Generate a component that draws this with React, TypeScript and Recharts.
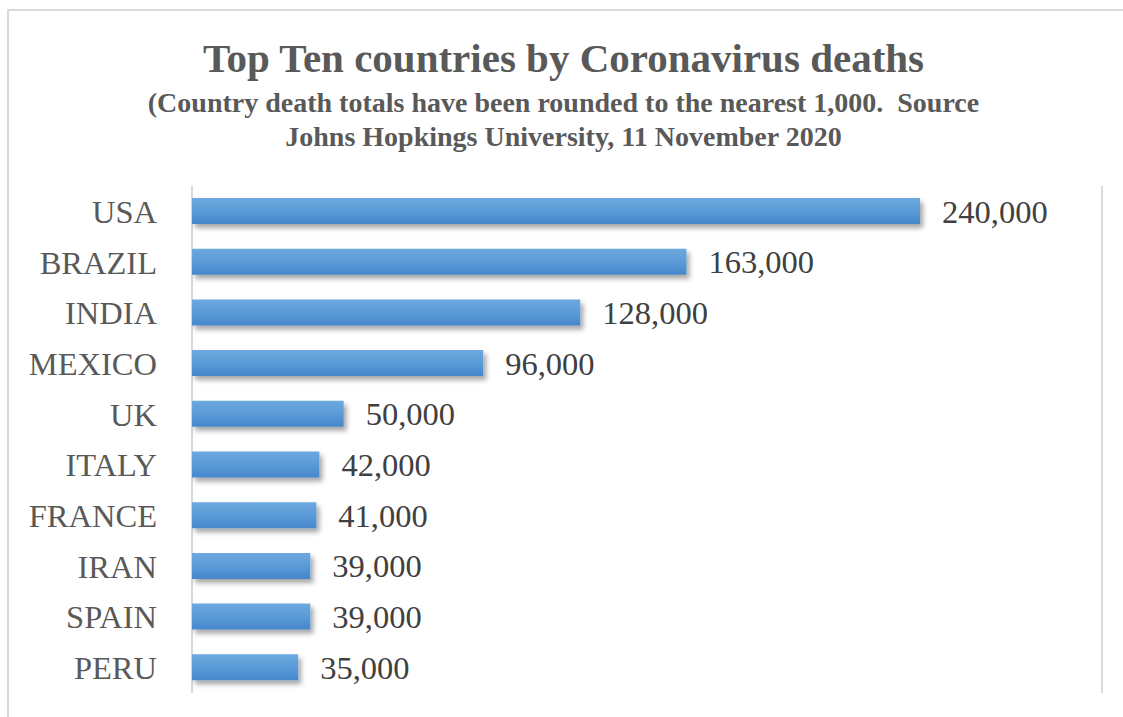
import { Bar, BarChart, CartesianGrid, LabelList, XAxis, YAxis } from "recharts";

const COUNTRIES = ["USA", "BRAZIL", "INDIA", "MEXICO", "UK", "ITALY", "FRANCE", "IRAN", "SPAIN", "PERU"];
const DEATHS = [240000, 163000, 128000, 96000, 50000, 42000, 41000, 39000, 39000, 35000];
const X_TICKS = [0, 50000, 100000, 150000, 200000, 250000, 300000];

const FONT = "'Liberation Serif', 'Times New Roman', serif";
const TITLE_COLOR = "#595959";
const LABEL_COLOR = "#404040";
const GRID = "#d9d9d9";

const data = COUNTRIES.map((country, i) => ({ country, deaths: DEATHS[i] }));

const fmt = (v: unknown) => Number(v).toLocaleString("en-US");

export default function App() {
  return (
    <div
      style={{
        position: "absolute",
        left: 0,
        top: 0,
        width: 1123,
        height: 717,
        background: "#fff",
        overflow: "hidden",
        fontFamily: FONT,
      }}
    >
      {/* chart frame */}
      <div
        style={{
          position: "absolute",
          left: 7,
          top: 9,
          width: 1130,
          height: 720,
          borderTop: `2px solid ${GRID}`,
          borderLeft: `2px solid ${GRID}`,
        }}
      />
      <div
        style={{
          position: "absolute",
          top: 35,
          left: 0,
          width: 1127,
          textAlign: "center",
          color: TITLE_COLOR,
          fontWeight: "bold",
        }}
      >
        <div style={{ fontSize: 41, lineHeight: "46px" }}>Top Ten countries by Coronavirus deaths</div>
        <div style={{ fontSize: 28, lineHeight: "34px", marginTop: 5 }}>
          (Country death totals have been rounded to the nearest 1,000.&nbsp; Source
        </div>
        <div style={{ fontSize: 28, lineHeight: "34px" }}>Johns Hopkings University, 11 November 2020</div>
      </div>
      <div style={{ position: "absolute", left: 0, top: 0 }}>
        <BarChart
          width={1123}
          height={717}
          data={data}
          layout="vertical"
          margin={{ top: 186, right: 21, bottom: 24, left: 0 }}
          barCategoryGap={0}
        >
          <defs>
            <linearGradient id="barFill" x1="0" y1="0" x2="0" y2="1">
              <stop offset="0%" stopColor="#6ea8de" />
              <stop offset="50%" stopColor="#5a9bd8" />
              <stop offset="100%" stopColor="#4586cb" />
            </linearGradient>
            <filter id="barShadow" x="-5%" y="-30%" width="115%" height="190%">
              <feDropShadow dx="3" dy="4" stdDeviation="2.5" floodColor="#000" floodOpacity="0.35" />
            </filter>
          </defs>
          <CartesianGrid horizontal={false} stroke={GRID} strokeWidth={2} />
          <XAxis
            type="number"
            domain={[0, 300000]}
            ticks={X_TICKS}
            tick={false}
            axisLine={false}
            tickLine={false}
            height={0}
          />
          <YAxis
            type="category"
            dataKey="country"
            width={192}
            axisLine={false}
            tickLine={false}
            tickSize={0}
            tickMargin={35}
            tick={{ fontSize: 32.5, fill: TITLE_COLOR, fontFamily: FONT }}
            interval={0}
          />
          <Bar
            dataKey="deaths"
            barSize={26}
            fill="url(#barFill)"
            filter="url(#barShadow)"
            isAnimationActive={false}
          >
            <LabelList
              dataKey="deaths"
              position="right"
              offset={22}
              formatter={fmt}
              style={{ fontSize: 32.5, fill: LABEL_COLOR, fontFamily: FONT }}
            />
          </Bar>
        </BarChart>
      </div>
    </div>
  );
}
